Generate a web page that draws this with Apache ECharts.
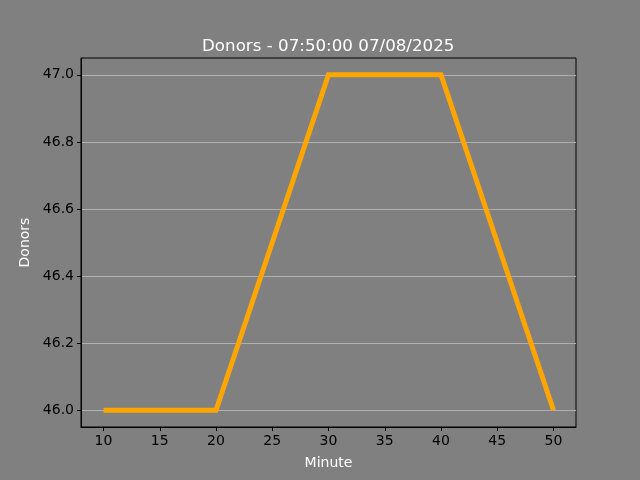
<!DOCTYPE html>
<html><head><meta charset="utf-8">
<script src="https://cdn.jsdelivr.net/npm/echarts@6/dist/echarts.min.js"></script>
<style>html,body{margin:0;padding:0;background:#808080;}#c{width:640px;height:480px;}</style>
</head><body><div id="c"></div>
<script>
const minutes = [10, 20, 30, 40, 50];
const donors = [46, 46, 47, 47, 46];
const xTicks = [10, 15, 20, 25, 30, 35, 40, 45, 50];
const yTicks = [46.0, 46.2, 46.4, 46.6, 46.8, 47.0];
const titleText = 'Donors - 07:50:00 07/08/2025';

const chart = echarts.init(document.getElementById('c'), null, {renderer: 'canvas'});
const font = 'DejaVu Sans';
chart.setOption({
  backgroundColor: '#808080',
  animation: false,
  title: {text: titleText, left: 197, top: 33,
    textStyle: {color: '#ffffff', fontFamily: font, fontSize: 16.7, fontWeight: 'normal'}},
  grid: {left: 81, right: 64, top: 58, bottom: 53, show: true, borderColor: '#000', borderWidth: 1, backgroundColor: 'transparent'},
  xAxis: {type: 'value', min: 8, max: 52,
    name: 'Minute', nameLocation: 'middle', nameGap: 29,
    nameTextStyle: {color: '#fff', fontFamily: font, fontSize: 14},
    axisLine: {show: true, lineStyle: {color: '#000'}},
    axisTick: {show: true, length: 4, lineStyle: {color: '#000'}, customValues: xTicks},
    axisLabel: {color: '#000', fontFamily: font, fontSize: 14, margin: 7, customValues: xTicks,
      formatter: v => String(v)},
    splitLine: {show: false}},
  yAxis: {type: 'value', min: 45.95, max: 47.05,
    name: 'Donors', nameLocation: 'middle', nameGap: 45,
    nameTextStyle: {color: '#fff', fontFamily: font, fontSize: 14},
    axisLine: {show: true, lineStyle: {color: '#000'}},
    axisTick: {show: true, length: 4, lineStyle: {color: '#000'}, customValues: yTicks},
    axisLabel: {color: '#000', fontFamily: font, fontSize: 14, margin: 7, customValues: yTicks,
      formatter: v => v.toFixed(1)},
    splitLine: {show: true, lineStyle: {color: '#b0b0b0', width: 1}}},
  series: [{type: 'line', data: minutes.map((m, i) => [m, donors[i]]),
    showSymbol: false, symbol: 'none',
    lineStyle: {color: '#ffa500', width: 5, cap: 'butt', join: 'miter'}}]
});
</script></body></html>
